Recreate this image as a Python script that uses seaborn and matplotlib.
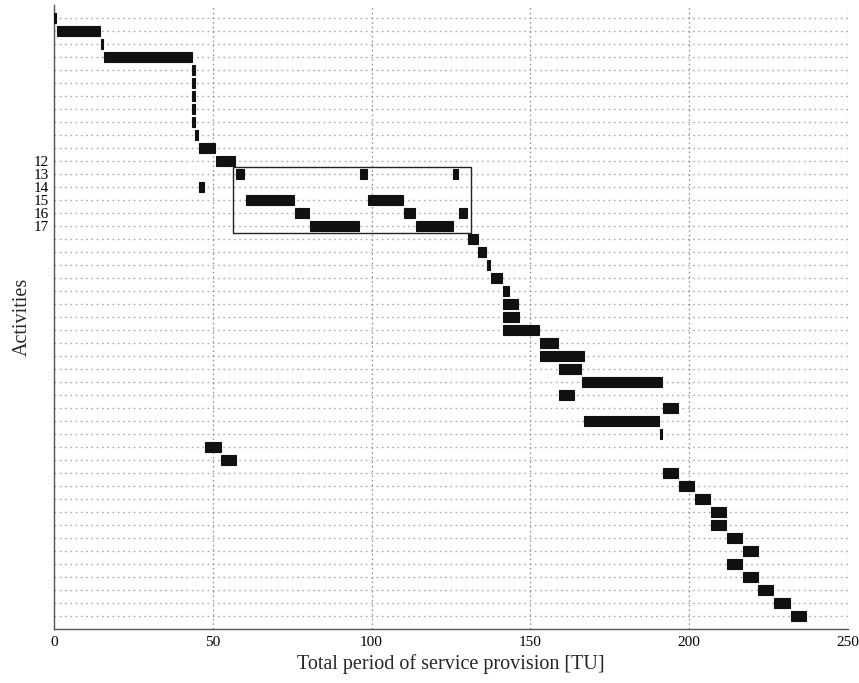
import matplotlib.pyplot as plt
import matplotlib.patches as mpatches
import numpy as np
import pandas as pd
import seaborn as sns

# 活动编号、开始时间、结束时间（同一活动可以出现多段）
activity = [1, 2, 3, 4, 5, 6, 7, 8, 9, 10, 11, 12,
            13, 13, 13, 14, 15, 15, 16, 16, 16, 17, 17,
            18, 19, 20, 21, 22, 23, 24, 25, 26, 27, 28, 29, 30,
            31, 32, 33, 34, 35, 36, 37, 38, 39, 40, 41, 42, 43, 44, 45, 46, 47]
start = [0.0, 1.0, 14.8, 15.7, 43.5, 43.5, 43.5, 43.5, 43.5, 44.4, 45.7, 51.0,
         57.3, 96.3, 125.6, 45.7, 60.5, 98.9, 75.9, 110.2, 127.5, 80.6, 114.0,
         130.4, 133.5, 136.3, 137.6, 141.4, 141.4, 141.4, 141.4, 153.0, 153.0, 159.0, 166.2, 159.0,
         191.7, 166.9, 190.8, 47.5, 52.6, 191.7, 196.8, 201.8, 206.9, 206.9, 211.9, 216.9,
         211.9, 216.9, 221.7, 226.7, 232.0]
finish = [0.6, 14.5, 15.4, 43.5, 44.4, 44.4, 44.4, 44.4, 44.4, 45.3, 50.7, 57.0,
          59.8, 98.5, 127.2, 47.2, 75.6, 109.9, 80.3, 113.7, 130.0, 96.0, 125.6,
          133.5, 136.0, 137.3, 141.0, 143.3, 146.1, 146.4, 152.7, 158.7, 166.9, 166.0, 191.4, 163.7,
          196.5, 190.5, 191.4, 52.6, 57.3, 196.5, 201.5, 206.5, 211.6, 211.6, 216.6, 221.7,
          216.6, 221.7, 226.4, 231.7, 236.8]
n_activities = 47
labelled = [12, 13, 14, 15, 16, 17]
x_ticks = [0, 50, 100, 150, 200, 250]

df = pd.DataFrame({"activity": activity, "start": start, "finish": finish})
df["duration"] = df["finish"] - df["start"]

sns.set_style("white")
plt.rcParams["font.family"] = ["Liberation Serif", "DejaVu Serif"]

fig = plt.figure(figsize=(8.59, 6.83), dpi=100)
ax = fig.add_axes([0.0629, 0.079, 0.924, 0.914])

# 每行的水平点线网格
for r in range(1, n_activities + 1):
    ax.axhline(r, color="#aaaaaa", linestyle=(0, (1.2, 2.6)), linewidth=1.0, zorder=0)
for xv in x_ticks[1:]:
    ax.axvline(xv, color="#8a8a8a", linestyle=(0, (1.2, 2.5)), linewidth=0.9, zorder=0)

ax.barh(df["activity"], df["duration"], left=df["start"], height=0.74,
        color="#111111", edgecolor="#111111", linewidth=0.8, zorder=3)

# 框出重复执行的活动段
box = mpatches.Rectangle((56.4, 12.5), 74.9, 5.05, fill=False,
                         edgecolor="#222222", linewidth=1.0, zorder=4)
ax.add_patch(box)

ax.set_xlim(0, 250)
ax.set_ylim(48, 0)
ax.set_xticks(x_ticks)
ax.set_yticks(range(1, n_activities + 1))
ax.set_yticklabels([str(r) if r in labelled else "" for r in range(1, n_activities + 1)])
ax.tick_params(axis="both", direction="in", labelsize=11, colors="#222222")
ax.tick_params(axis="x", length=6, width=0.9, pad=5)
ax.tick_params(axis="y", length=4, width=0.9, pad=4)
for lab in ax.get_yticklabels() + ax.get_xticklabels():
    lab.set_color("black")

for side in ["top", "right"]:
    ax.spines[side].set_visible(False)
for side in ["left", "bottom"]:
    ax.spines[side].set_color("#555555")
    ax.spines[side].set_linewidth(1.0)

ax.set_xlabel("Total period of service provision [TU]", fontsize=14.5, labelpad=4)
ax.set_ylabel("Activities", fontsize=14.5)
ax.yaxis.set_label_coords(-0.028, 0.5)

fig.savefig("out.png", dpi=100)
